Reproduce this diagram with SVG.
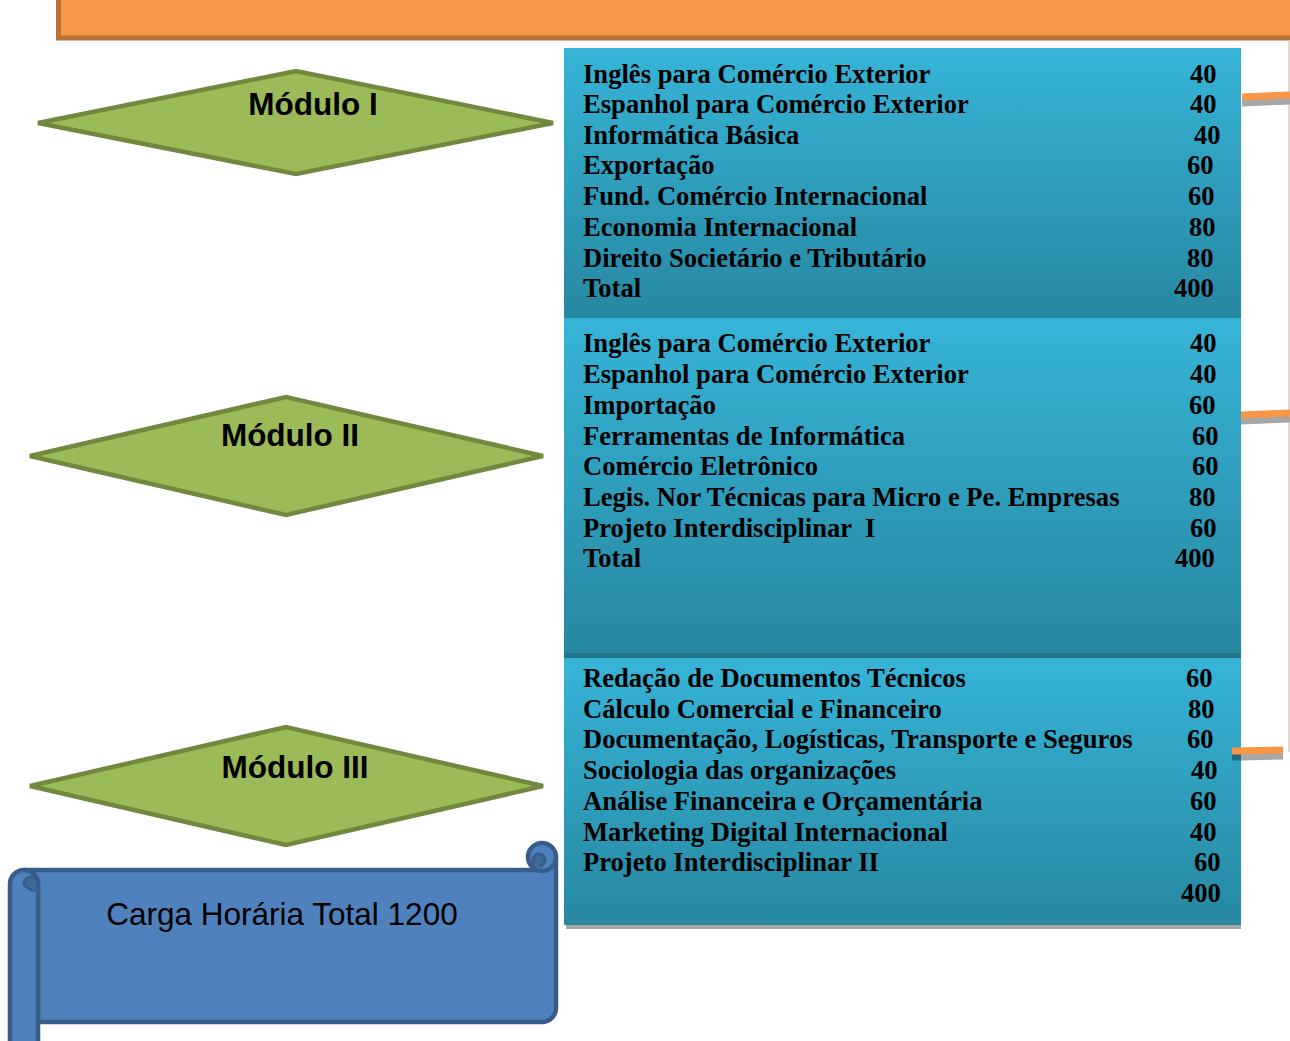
<svg xmlns="http://www.w3.org/2000/svg" width="1290" height="1041" viewBox="0 0 1290 1041">
<defs>
<linearGradient id="sec" x1="0" y1="0" x2="0" y2="1">
<stop offset="0" stop-color="#36b4d8"/>
<stop offset="1" stop-color="#2788a1"/>
</linearGradient>
<style>
.dia{fill:#9bbb59;stroke:#71893f;stroke-width:4.5;stroke-linejoin:miter}
.mod{font-family:"Liberation Sans",Arial,sans-serif;font-weight:bold;font-size:31.5px;fill:#000}
.t{font-family:"Liberation Serif","Times New Roman",serif;font-weight:bold;font-size:26.6px;fill:#000}
.conn{stroke:#f79646;stroke-width:7;fill:none}
.sh{stroke:#a6a6a6;stroke-width:7;fill:none}
.scroll{fill:#4f81bd;stroke:#385d8a;stroke-width:4.5;stroke-linejoin:round}
.curl{fill:#3f6a9c;stroke:#385d8a;stroke-width:3}
</style>
</defs>
<rect width="1290" height="1041" fill="#fff"/>
<g id="header">
<rect x="58.5" y="-6" width="1240" height="44" fill="#f79646" stroke="#b87333" stroke-width="5"/>
</g>
<g id="panel">
<rect x="566" y="924" width="675" height="5" fill="#a6a6a6"/>
<rect x="564" y="48" width="677" height="270" fill="url(#sec)"/>
<rect x="564" y="318" width="677" height="336" fill="url(#sec)"/>
<rect x="564" y="653" width="677" height="5" fill="#23768b"/>
<rect x="564" y="658" width="677" height="267" fill="url(#sec)"/>
</g>
<g id="connectors">
<line x1="1289" y1="40" x2="1289" y2="752" stroke="#dccbbd" stroke-width="1.5"/>
<line class="sh" x1="1242" y1="103" x2="1290" y2="101"/>
<line class="conn" x1="1242" y1="97" x2="1290" y2="95"/>
<line class="sh" x1="1241" y1="421" x2="1290" y2="419"/>
<line class="conn" x1="1241" y1="415" x2="1290" y2="413"/>
<line class="sh" x1="1241" y1="757" x2="1283" y2="756"/>
<line x1="1232" y1="757" x2="1241" y2="757" stroke="#1f6a80" stroke-width="7"/>
<line class="conn" x1="1232" y1="751" x2="1283" y2="750"/>
</g>
<g id="modulo1">
<polygon class="dia" points="38,123 296,71 553,123 296,174"/>
<text class="mod" x="313" y="115" text-anchor="middle">Módulo I</text>
</g>
<g id="modulo2">
<polygon class="dia" points="30,456 286,397 543,456 286,515"/>
<text class="mod" x="290" y="446" text-anchor="middle">Módulo II</text>
</g>
<g id="modulo3">
<polygon class="dia" points="30,786 286,727 543,786 286,845"/>
<text class="mod" x="295" y="778" text-anchor="middle">Módulo III</text>
</g>
<g id="lista1">
<text class="t" x="583" y="83">Inglês para Comércio Exterior</text><text class="t" x="1190" y="83">40</text>
<text class="t" x="583" y="113">Espanhol para Comércio Exterior</text><text class="t" x="1190" y="113">40</text>
<text class="t" x="583" y="144">Informática Básica</text><text class="t" x="1194" y="144">40</text>
<text class="t" x="583" y="174">Exportação</text><text class="t" x="1187" y="174">60</text>
<text class="t" x="583" y="205">Fund. Comércio Internacional</text><text class="t" x="1188" y="205">60</text>
<text class="t" x="583" y="236">Economia Internacional</text><text class="t" x="1189" y="236">80</text>
<text class="t" x="583" y="267">Direito Societário e Tributário</text><text class="t" x="1187" y="267">80</text>
<text class="t" x="583" y="297">Total</text><text class="t" x="1174" y="297">400</text>
</g>
<g id="lista2">
<text class="t" x="583" y="352">Inglês para Comércio Exterior</text><text class="t" x="1190" y="352">40</text>
<text class="t" x="583" y="383">Espanhol para Comércio Exterior</text><text class="t" x="1190" y="383">40</text>
<text class="t" x="583" y="414">Importação</text><text class="t" x="1189" y="414">60</text>
<text class="t" x="583" y="445">Ferramentas de Informática</text><text class="t" x="1192" y="445">60</text>
<text class="t" x="583" y="475">Comércio Eletrônico</text><text class="t" x="1192" y="475">60</text>
<text class="t" x="583" y="506">Legis. Nor Técnicas para Micro e Pe. Empresas</text><text class="t" x="1189" y="506">80</text>
<text class="t" x="583" y="537" xml:space="preserve">Projeto Interdisciplinar  I</text><text class="t" x="1190" y="537">60</text>
<text class="t" x="583" y="567">Total</text><text class="t" x="1175" y="567">400</text>
</g>
<g id="lista3">
<text class="t" x="583" y="687">Redação de Documentos Técnicos</text><text class="t" x="1186" y="687">60</text>
<text class="t" x="583" y="718">Cálculo Comercial e Financeiro</text><text class="t" x="1188" y="718">80</text>
<text class="t" x="583" y="748">Documentação, Logísticas, Transporte e Seguros</text><text class="t" x="1187" y="748">60</text>
<text class="t" x="583" y="779">Sociologia das organizações</text><text class="t" x="1191" y="779">40</text>
<text class="t" x="583" y="810">Análise Financeira e Orçamentária</text><text class="t" x="1190" y="810">60</text>
<text class="t" x="583" y="841">Marketing Digital Internacional</text><text class="t" x="1190" y="841">40</text>
<text class="t" x="583" y="871">Projeto Interdisciplinar II</text><text class="t" x="1194" y="871">60</text>
<text class="t" x="1181" y="902">400</text>
</g>
<g id="carga">
<path class="scroll" d="M24,870 L542,870 L542,857 L556,857 L556,1008 A14,14 0 0 1 542,1022 L38,1022 L38,884 Z"/>
<path class="scroll" d="M10,884 A14,14 0 0 1 38,884 L38,1050 L10,1050 Z"/>
<circle class="scroll" cx="542" cy="857" r="14"/>
<path class="curl" d="M24,884 A7,7 0 0 1 31,877 A7,7 0 0 1 38,884 L38,890 A14,14 0 0 1 24,884 Z"/>
<path class="curl" d="M533,869 L533,860 A6,6 0 0 1 545,860 A6,6 0 0 1 539,866"/>
<text x="282" y="925" text-anchor="middle" font-family="'Liberation Sans',Arial,sans-serif" font-size="31.5" fill="#000">Carga Horária Total 1200</text>
</g>
</svg>
